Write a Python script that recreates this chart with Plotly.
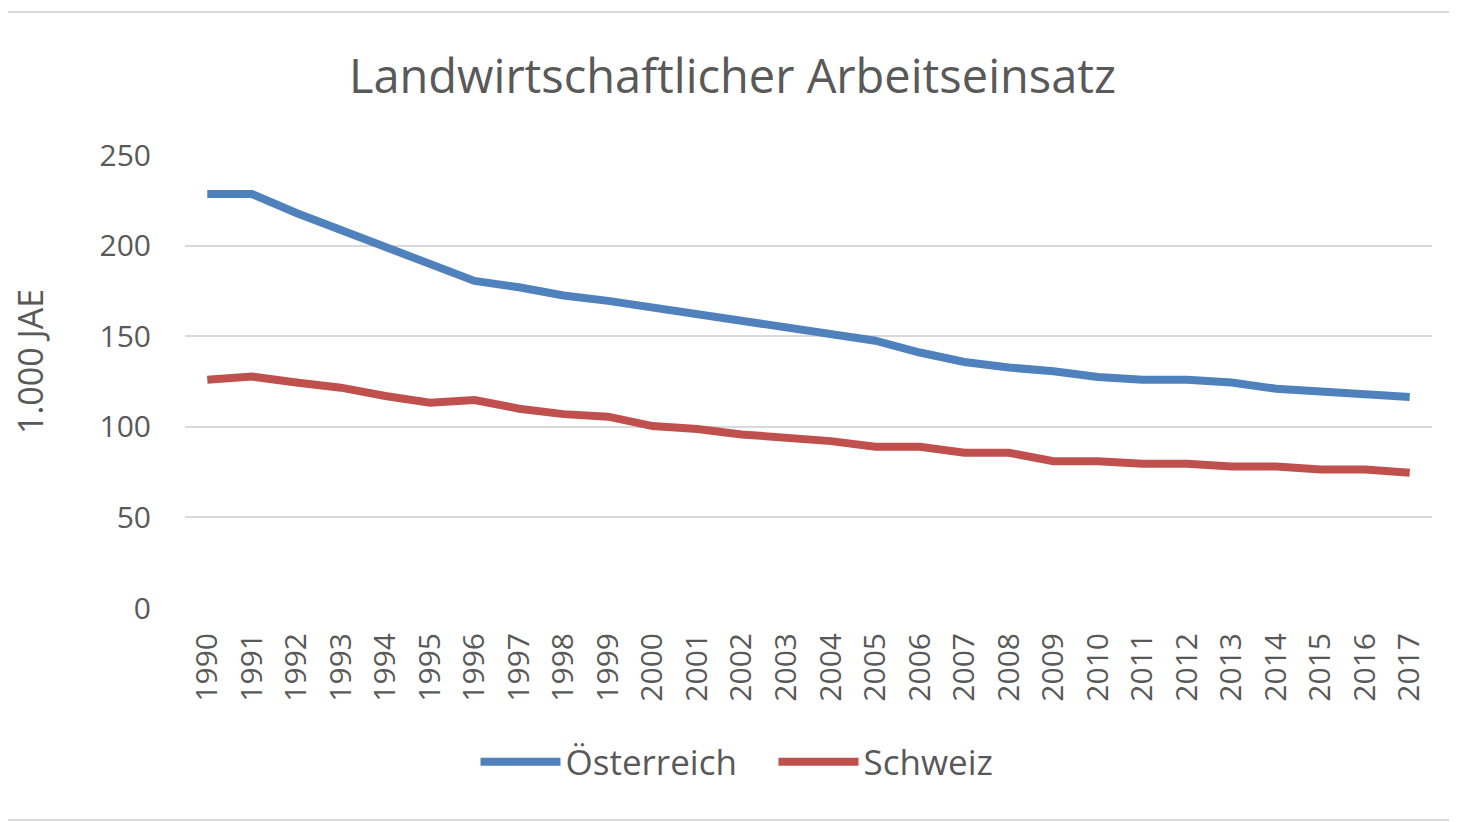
import plotly.graph_objects as go

years = [str(y) for y in range(1990, 2018)]
oesterreich = [228.5, 228.5, 218, 208.5, 199, 189, 180.5, 177, 172.5, 169.5, 166, 161.5, 158, 155, 152, 147.5, 141, 135.8, 132.7, 130.7, 127.5, 126, 126, 124.4, 121, 119.8, 118.3, 116.4]
schweiz = [126, 127.7, 124.5, 121.6, 117, 113.3, 114.8, 110, 107, 105.6, 100.4, 98.8, 95.8, 94, 92.1, 89, 89, 85.7, 85.7, 81, 81, 79.6, 79.6, 78.1, 78.1, 76.4, 76.4, 74.6]
y_ticks = [0, 50, 100, 150, 200, 250]

title_text = "Landwirtschaftlicher Arbeitseinsatz"
y_title = "1.000 JAE"

FONT = "Open Sans"
GRAY = "#595959"
GRID = "#D9D9D9"

fig = go.Figure()
fig.add_trace(go.Scatter(x=years, y=oesterreich, mode="lines", name="Österreich",
                         legendwidth=203,
                         line=dict(color="#4F81BD", width=8)))
fig.add_trace(go.Scatter(x=years, y=schweiz, mode="lines", name="Schweiz",
                         line=dict(color="#C0504D", width=8)))

# page body has an 8px margin, so coordinates are shifted by 8
OFF = 8
W, H = 1457 - OFF, 822 - OFF
L, T = 185 - OFF, 155 - OFF
PR, PB = 1432 - OFF, 608 - OFF
R, B = W - PR, H - PB
pw = PR - L
ph = PB - T

def py(yy):
    return (PB - (yy - OFF)) / ph

fig.update_layout(
    width=W, height=H,
    margin=dict(l=L, r=R, t=T, b=B, autoexpand=False),
    paper_bgcolor="white", plot_bgcolor="white",
    font=dict(family=FONT, color=GRAY, size=30),
    title=dict(text=title_text, xref="container", x=(732.5 - OFF) / W, xanchor="center",
               yref="container", y=1 - (77 - OFF) / H, yanchor="middle",
               font=dict(family=FONT, size=47, color=GRAY)),
    showlegend=True,
    legend=dict(orientation="h", xref="container", yref="container",
                x=(737 - OFF) / W, xanchor="center", y=1 - (762 - OFF) / H, yanchor="middle",
                font=dict(family=FONT, size=35, color=GRAY),
                itemwidth=80, bgcolor="rgba(0,0,0,0)", tracegroupgap=0),
    xaxis=dict(type="category", range=[-0.5, len(years) - 0.5],
               showgrid=False, showline=False, zeroline=False,
               tickangle=-90, ticks="outside", ticklen=12, tickcolor="rgba(0,0,0,0)",
               tickfont=dict(family=FONT, size=30, color=GRAY), fixedrange=True),
    yaxis=dict(range=[0, 250], tickvals=y_ticks, showgrid=True, gridcolor=GRID,
               gridwidth=2, zeroline=False, showline=False,
               ticks="outside", ticklen=27, tickcolor="rgba(0,0,0,0)",
               tickfont=dict(family=FONT, size=30, color=GRAY), fixedrange=True),
    annotations=[dict(text=y_title, xref="paper", yref="paper",
                      x=(30 - OFF - L) / pw, y=py(362), textangle=-90,
                      showarrow=False, xanchor="center", yanchor="middle",
                      font=dict(family=FONT, size=34, color=GRAY))],
    shapes=[
        dict(type="line", xref="paper", yref="paper", x0=-L / pw, x1=(W - L) / pw,
             y0=py(12), y1=py(12), line=dict(color=GRID, width=2)),
        dict(type="line", xref="paper", yref="paper", x0=-L / pw, x1=(W - L) / pw,
             y0=py(820), y1=py(820), line=dict(color=GRID, width=2)),
    ],
)

fig.write_html("out.html")
